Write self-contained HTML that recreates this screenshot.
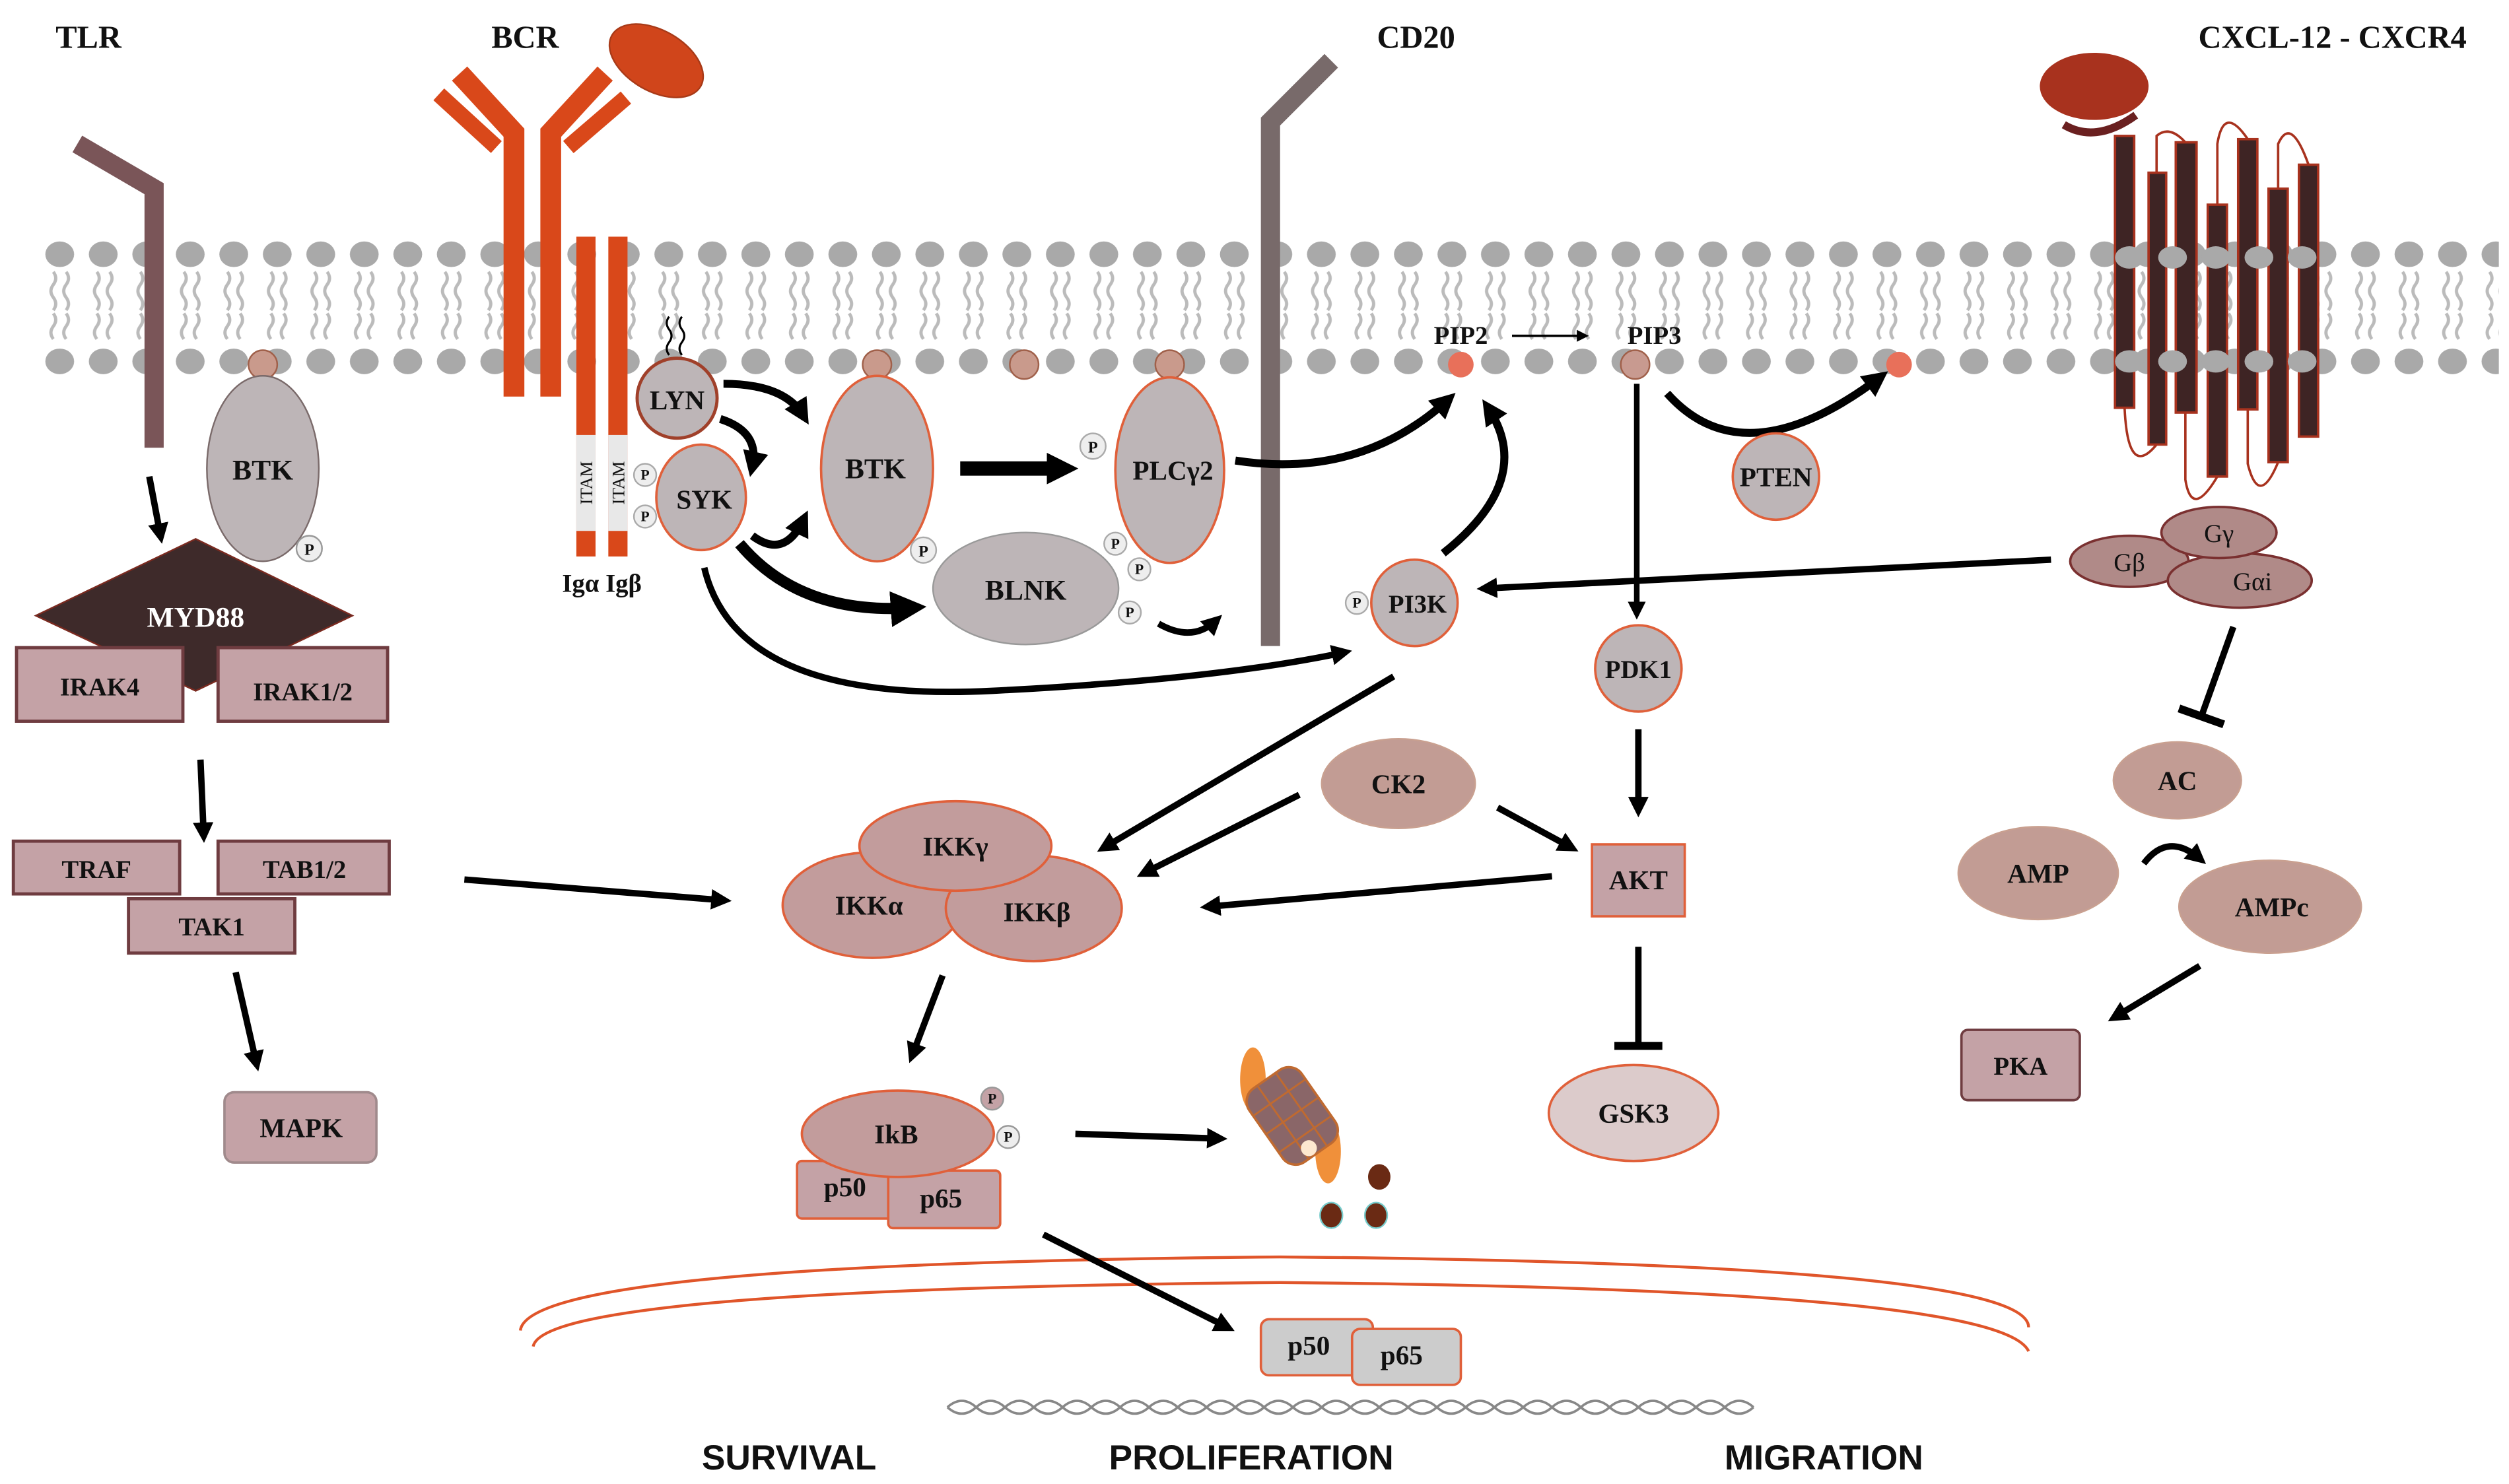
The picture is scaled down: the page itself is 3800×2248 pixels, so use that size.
<!DOCTYPE html>
<html><head><meta charset="utf-8"><style>
html,body{margin:0;padding:0;background:#fff;}
svg{display:block;}
.t{font-family:"Liberation Serif",serif;font-weight:bold;fill:#111;text-anchor:middle;}
.s{font-family:"Liberation Sans",sans-serif;font-weight:bold;fill:#111;text-anchor:middle;}
</style></head><body>
<svg width="3800" height="2248" viewBox="0 0 1568 928" xmlns="http://www.w3.org/2000/svg">
<defs>
<marker id="ah" viewBox="0 0 10 10" refX="6" refY="5" markerWidth="3.2" markerHeight="3.2" orient="auto"><path d="M0,0 L10,5 L0,10 z" fill="#000"/></marker>
<marker id="ahs" viewBox="0 0 10 10" refX="6" refY="5" markerWidth="5" markerHeight="5" orient="auto"><path d="M0,0 L10,5 L0,10 z" fill="#000"/></marker>
<marker id="ahf" viewBox="0 0 10 10" refX="5" refY="5" markerWidth="2.2" markerHeight="2.2" orient="auto"><path d="M0,0 L10,5 L0,10 z" fill="#000"/></marker>
<pattern id="mem" x="24" y="0" width="27.2" height="928" patternUnits="userSpaceOnUse">
<ellipse cx="13" cy="159" rx="9" ry="8" fill="#a9a9a9"/>
<ellipse cx="13" cy="226" rx="9" ry="8" fill="#a9a9a9"/>
<path d="M9,170 q3,4 0,8 q-3,4 0,8 q3,4 0,8 M17,170 q3,4 0,8 q-3,4 0,8 q3,4 0,8" stroke="#bbb" stroke-width="2" fill="none"/>
<path d="M9,196 q3,4 0,8 q-3,4 0,8 M17,196 q3,4 0,8 q-3,4 0,8" stroke="#bbb" stroke-width="2" fill="none"/>
</pattern>
</defs>
<rect x="22" y="148" width="1540" height="90" fill="url(#mem)"/>

<!-- titles -->
<text class="t" x="55" y="30" font-size="20">TLR</text>
<text class="t" x="328" y="30" font-size="20">BCR</text>
<text class="t" x="885" y="30" font-size="20">CD20</text>
<text class="t" x="1458" y="30" font-size="20">CXCL-12 - CXCR4</text>

<!-- TLR -->
<path d="M48,90 L96,118 L96,280" stroke="#7a5558" stroke-width="12" fill="none"/>
<circle cx="164" cy="228" r="9" fill="#c99a8c" stroke="#a0604a"/>
<ellipse cx="164" cy="293" rx="35" ry="58" fill="#bdb5b7" stroke="#7a6a6a"/>
<text class="t" x="164" y="300" font-size="18">BTK</text>
<circle cx="193" cy="343" r="8" fill="#eee" stroke="#999"/><text class="t" x="193" y="347" font-size="10">P</text>
<line x1="93" y1="298" x2="100" y2="335" stroke="#000" stroke-width="4" marker-end="url(#ah)"/>
<polygon points="22,385 122,337 220,385 122,432" fill="#3e2a2a" stroke="#7a2a20"/>
<text class="t" x="122" y="392" font-size="18" style="fill:#fff">MYD88</text>
<rect x="10" y="405" width="104" height="46" fill="#c4a2a6" stroke="#6f3c40" stroke-width="2"/>
<rect x="136" y="405" width="106" height="46" fill="#c4a2a6" stroke="#6f3c40" stroke-width="2"/>
<text class="t" x="62" y="435" font-size="16">IRAK4</text>
<text class="t" x="189" y="438" font-size="16">IRAK1/2</text>
<line x1="125" y1="475" x2="127" y2="522" stroke="#000" stroke-width="4" marker-end="url(#ah)"/>
<rect x="8" y="526" width="104" height="33" fill="#c4a2a6" stroke="#6f3c40" stroke-width="2"/>
<rect x="136" y="526" width="107" height="33" fill="#c4a2a6" stroke="#6f3c40" stroke-width="2"/>
<rect x="80" y="562" width="104" height="34" fill="#c4a2a6" stroke="#6f3c40" stroke-width="2"/>
<text class="t" x="60" y="549" font-size="16">TRAF</text>
<text class="t" x="190" y="549" font-size="16">TAB1/2</text>
<text class="t" x="132" y="585" font-size="16">TAK1</text>
<line x1="147" y1="608" x2="160" y2="665" stroke="#000" stroke-width="4" marker-end="url(#ah)"/>
<rect x="140" y="683" width="95" height="44" rx="6" fill="#c4a2a6" stroke="#a08a8c" stroke-width="1.5"/>
<text class="t" x="188" y="711" font-size="17">MAPK</text>
<line x1="290" y1="550" x2="452" y2="563" stroke="#000" stroke-width="4" marker-end="url(#ah)"/>

<!-- BCR -->
<g stroke="#d9481a" fill="none" stroke-linejoin="miter">
<path d="M321,248 L321,83 L287,46" stroke-width="13"/>
<path d="M344,248 L344,83 L378,46" stroke-width="13"/>
<path d="M274,59 L310,92" stroke-width="10"/>
<path d="M391,61 L355,92" stroke-width="10"/>
</g>
<ellipse cx="410" cy="38" rx="32" ry="19" transform="rotate(30 410 38)" fill="#d0451b" stroke="#a83a18"/>
<rect x="360" y="148" width="12" height="200" fill="#d9481a"/>
<rect x="380" y="148" width="12" height="200" fill="#d9481a"/>
<rect x="360" y="272" width="12" height="60" fill="#e8e8e8"/>
<rect x="380" y="272" width="12" height="60" fill="#e8e8e8"/>
<text class="t" transform="translate(370,302) rotate(-90)" font-size="11" style="font-weight:normal">ITAM</text>
<text class="t" transform="translate(390,302) rotate(-90)" font-size="11" style="font-weight:normal">ITAM</text>
<text class="t" x="376" y="370" font-size="16">Igα Igβ</text>
<path d="M418,198 q-3,4 0,8 q3,4 0,8 q-3,4 0,8 M426,198 q-3,4 0,8 q3,4 0,8 q-3,4 0,8" stroke="#000" stroke-width="1.3" fill="none"/>
<circle cx="423" cy="249" r="25" fill="#bdb5b7" stroke="#a0402a" stroke-width="2"/>
<text class="t" x="423" y="256" font-size="17">LYN</text>
<ellipse cx="438" cy="311" rx="28" ry="33" fill="#bdb5b7" stroke="#e0603a" stroke-width="1.5"/>
<text class="t" x="440" y="318" font-size="17">SYK</text>
<circle cx="403" cy="297" r="7" fill="#eee" stroke="#aaa"/><text class="t" x="403" y="300" font-size="9">P</text>
<circle cx="403" cy="323" r="7" fill="#eee" stroke="#aaa"/><text class="t" x="403" y="326" font-size="9">P</text>
<g stroke="#000" stroke-width="5" fill="none" marker-end="url(#ah)">
<path d="M452,240 Q490,240 502,260"/>
<path d="M450,262 Q475,270 470,292"/>
<path d="M470,335 Q490,350 502,325"/>
<path d="M462,340 Q500,385 570,380" stroke-width="7"/>
<path d="M440,355 Q460,440 620,432 Q760,425 840,408" stroke-width="4"/>
</g>
<circle cx="548" cy="228" r="9" fill="#c99a8c" stroke="#a0604a"/>
<ellipse cx="548" cy="293" rx="35" ry="58" fill="#bdb5b7" stroke="#e0603a" stroke-width="1.5"/>
<text class="t" x="547" y="299" font-size="18">BTK</text>
<circle cx="577" cy="344" r="8" fill="#eee" stroke="#aaa"/><text class="t" x="577" y="348" font-size="10">P</text>
<line x1="600" y1="293" x2="664" y2="293" stroke="#000" stroke-width="9" marker-end="url(#ahf)" />
<ellipse cx="641" cy="368" rx="58" ry="35" fill="#bdb5b7" stroke="#999"/>
<text class="t" x="641" y="375" font-size="18">BLNK</text>
<circle cx="697" cy="340" r="7" fill="#eee" stroke="#aaa"/><text class="t" x="697" y="343" font-size="9">P</text>
<circle cx="712" cy="356" r="7" fill="#eee" stroke="#aaa"/><text class="t" x="712" y="359" font-size="9">P</text>
<circle cx="706" cy="383" r="7" fill="#eee" stroke="#aaa"/><text class="t" x="706" y="386" font-size="9">P</text>
<path d="M724,390 Q745,402 760,388" stroke="#000" stroke-width="4" fill="none" marker-end="url(#ah)"/>
<circle cx="640" cy="228" r="9" fill="#c99a8c" stroke="#a0604a"/>
<circle cx="731" cy="228" r="9" fill="#c99a8c" stroke="#a0604a"/>
<ellipse cx="731" cy="294" rx="34" ry="58" fill="#bdb5b7" stroke="#e0603a" stroke-width="1.5"/>
<text class="t" x="733" y="300" font-size="17">PLCγ2</text>
<circle cx="683" cy="279" r="8" fill="#eee" stroke="#aaa"/><text class="t" x="683" y="283" font-size="10">P</text>

<!-- CD20 -->
<path d="M794,404 L794,76 L832,38" stroke="#786a6a" stroke-width="12" fill="none"/>
<path d="M772,288 Q850,300 905,250" stroke="#000" stroke-width="5" fill="none" marker-end="url(#ah)"/>

<!-- PIP -->
<text class="t" x="913" y="215" font-size="16">PIP2</text>
<line x1="945" y1="210" x2="990" y2="210" stroke="#000" stroke-width="1.5" marker-end="url(#ahs)"/>
<text class="t" x="1034" y="215" font-size="16">PIP3</text>
<circle cx="913" cy="228" r="8" fill="#e8705a"/>
<circle cx="1022" cy="228" r="9" fill="#c89a90" stroke="#a0604a"/>
<circle cx="1187" cy="228" r="8" fill="#e8705a"/>
<path d="M902,346 Q960,300 930,255" stroke="#000" stroke-width="5" fill="none" marker-end="url(#ah)"/>
<path d="M1042,246 Q1090,300 1175,236" stroke="#000" stroke-width="5" fill="none" marker-end="url(#ah)"/>
<circle cx="1110" cy="298" r="27" fill="#bdb5b7" stroke="#e0603a" stroke-width="1.5"/>
<text class="t" x="1110" y="304" font-size="17">PTEN</text>
<line x1="1023" y1="240" x2="1023" y2="383" stroke="#000" stroke-width="3.5" marker-end="url(#ah)"/>
<circle cx="884" cy="377" r="27" fill="#bdb5b7" stroke="#e0603a" stroke-width="1.5"/>
<text class="t" x="886" y="383" font-size="16">PI3K</text>
<circle cx="848" cy="377" r="7" fill="#eee" stroke="#aaa"/><text class="t" x="848" y="380" font-size="9">P</text>
<circle cx="1024" cy="418" r="27" fill="#bdb5b7" stroke="#e0603a" stroke-width="1.5"/>
<text class="t" x="1024" y="424" font-size="16">PDK1</text>
<line x1="1024" y1="456" x2="1024" y2="506" stroke="#000" stroke-width="4" marker-end="url(#ah)"/>
<rect x="995" y="528" width="58" height="45" fill="#c4a2a6" stroke="#e0603a" stroke-width="1.5"/>
<text class="t" x="1024" y="556" font-size="17">AKT</text>
<ellipse cx="874" cy="490" rx="48" ry="28" fill="#c29c94" stroke="#c9a090"/>
<text class="t" x="874" y="496" font-size="17">CK2</text>
<line x1="936" y1="505" x2="982" y2="530" stroke="#000" stroke-width="4" marker-end="url(#ah)"/>
<line x1="812" y1="497" x2="715" y2="546" stroke="#000" stroke-width="4" marker-end="url(#ah)"/>
<line x1="871" y1="423" x2="690" y2="530" stroke="#000" stroke-width="4" marker-end="url(#ah)"/>
<line x1="970" y1="548" x2="755" y2="567" stroke="#000" stroke-width="4" marker-end="url(#ah)"/>
<line x1="1024" y1="592" x2="1024" y2="654" stroke="#000" stroke-width="4"/>
<line x1="1009" y1="654" x2="1039" y2="654" stroke="#000" stroke-width="5"/>
<ellipse cx="1021" cy="696" rx="53" ry="30" fill="#dccbcb" stroke="#e0603a" stroke-width="1.5"/>
<text class="t" x="1021" y="702" font-size="17">GSK3</text>

<!-- IKK -->
<ellipse cx="545" cy="566" rx="56" ry="33" fill="#c29c9c" stroke="#e0603a" stroke-width="1.5"/>
<ellipse cx="646" cy="568" rx="55" ry="33" fill="#c29c9c" stroke="#e0603a" stroke-width="1.5"/>
<ellipse cx="597" cy="529" rx="60" ry="28" fill="#c29c9c" stroke="#e0603a" stroke-width="1.5"/>
<text class="t" x="597" y="535" font-size="17">IKKγ</text>
<text class="t" x="543" y="572" font-size="17">IKKα</text>
<text class="t" x="648" y="576" font-size="17">IKKβ</text>
<line x1="589" y1="610" x2="570" y2="660" stroke="#000" stroke-width="4" marker-end="url(#ah)"/>
<rect x="498" y="726" width="64" height="36" rx="3" fill="#c4a2a6" stroke="#e0603a" stroke-width="1.5"/>
<rect x="555" y="732" width="70" height="36" rx="3" fill="#c4a2a6" stroke="#e0603a" stroke-width="1.5"/>
<ellipse cx="561" cy="709" rx="60" ry="27" fill="#c29c9c" stroke="#e0603a" stroke-width="1.5"/>
<text class="t" x="560" y="715" font-size="17">IkB</text>
<text class="t" x="528" y="748" font-size="17">p50</text>
<text class="t" x="588" y="755" font-size="17">p65</text>
<circle cx="620" cy="687" r="7" fill="#c4a2a6" stroke="#999"/><text class="t" x="620" y="690" font-size="9">P</text>
<circle cx="630" cy="711" r="7" fill="#eee" stroke="#999"/><text class="t" x="630" y="714" font-size="9">P</text>
<line x1="672" y1="709" x2="762" y2="712" stroke="#000" stroke-width="4" marker-end="url(#ah)"/>

<!-- proteasome -->
<ellipse cx="783" cy="675" rx="8" ry="20" fill="#f0903a"/>
<ellipse cx="830" cy="720" rx="8" ry="20" fill="#f0903a"/>
<g transform="rotate(-35 807 697)">
<rect x="787" y="670" width="40" height="56" rx="10" fill="#8a6668" stroke="#c06a30" stroke-width="1.5"/>
<g fill="none" stroke="#c06a30" stroke-width="1.2">
<line x1="800" y1="670" x2="800" y2="726"/><line x1="814" y1="670" x2="814" y2="726"/>
<line x1="787" y1="684" x2="827" y2="684"/><line x1="787" y1="698" x2="827" y2="698"/><line x1="787" y1="712" x2="827" y2="712"/>
</g></g>
<circle cx="818" cy="718" r="5" fill="#fde8d0"/>
<ellipse cx="862" cy="736" rx="7" ry="8" fill="#6a2a14"/>
<ellipse cx="832" cy="760" rx="7" ry="8" fill="#6a2a14" stroke="#7cc" stroke-width="1"/>
<ellipse cx="860" cy="760" rx="7" ry="8" fill="#6a2a14" stroke="#7cc" stroke-width="1"/>

<!-- nucleus -->
<path d="M325,832 Q330,790 800,786 Q1268,790 1268,830" stroke="#e0552a" stroke-width="1.8" fill="none"/>
<path d="M333,842 Q340,806 800,802 Q1250,806 1268,845" stroke="#e0552a" stroke-width="1.8" fill="none"/>
<line x1="652" y1="772" x2="767" y2="830" stroke="#000" stroke-width="4" marker-end="url(#ah)"/>
<rect x="788" y="825" width="70" height="35" rx="5" fill="#ccc" stroke="#e0603a" stroke-width="1.5"/>
<rect x="845" y="831" width="68" height="35" rx="5" fill="#ccc" stroke="#e0603a" stroke-width="1.5"/>
<text class="t" x="818" y="847" font-size="17">p50</text>
<text class="t" x="876" y="853" font-size="17">p65</text>
<path d="M592,880 q9,-8 18,0 q9,-8 18,0 q9,-8 18,0 q9,-8 18,0 q9,-8 18,0 q9,-8 18,0 q9,-8 18,0 q9,-8 18,0 q9,-8 18,0 q9,-8 18,0 q9,-8 18,0 q9,-8 18,0 q9,-8 18,0 q9,-8 18,0 q9,-8 18,0 q9,-8 18,0 q9,-8 18,0 q9,-8 18,0 q9,-8 18,0 q9,-8 18,0 q9,-8 18,0 q9,-8 18,0 q9,-8 18,0 q9,-8 18,0 q9,-8 18,0 q9,-8 18,0 q9,-8 18,0 q9,-8 18,0 M592,880 q9,8 18,0 q9,8 18,0 q9,8 18,0 q9,8 18,0 q9,8 18,0 q9,8 18,0 q9,8 18,0 q9,8 18,0 q9,8 18,0 q9,8 18,0 q9,8 18,0 q9,8 18,0 q9,8 18,0 q9,8 18,0 q9,8 18,0 q9,8 18,0 q9,8 18,0 q9,8 18,0 q9,8 18,0 q9,8 18,0 q9,8 18,0 q9,8 18,0 q9,8 18,0 q9,8 18,0 q9,8 18,0 q9,8 18,0 q9,8 18,0 q9,8 18,0" stroke="#888" stroke-width="1.5" fill="none"/>
<text class="s" x="493" y="919" font-size="22">SURVIVAL</text>
<text class="s" x="782" y="919" font-size="22">PROLIFERATION</text>
<text class="s" x="1140" y="919" font-size="22">MIGRATION</text>

<!-- CXCR4 -->
<ellipse cx="1309" cy="54" rx="34" ry="21" fill="#a8321e"/>
<path d="M1290,78 Q1310,90 1335,72" stroke="#6a2020" stroke-width="5" fill="none"/>
<g stroke="#a8321e" stroke-width="1.5" fill="none">
<path d="M1348,108 L1348,85 Q1356,78 1366,89"/>
<path d="M1386,128 L1386,90 Q1390,65 1405,87"/>
<path d="M1424,118 L1424,90 Q1432,72 1443,103"/>
<path d="M1328,255 Q1330,300 1348,278"/>
<path d="M1366,258 L1366,300 Q1370,325 1386,298"/>
<path d="M1405,256 L1405,290 Q1412,318 1424,289"/>
</g>
<g fill="#3e2424" stroke="#a8321e" stroke-width="1.5">
<rect x="1322" y="85" width="12" height="170"/>
<rect x="1343" y="108" width="11" height="170"/>
<rect x="1360" y="89" width="13" height="169"/>
<rect x="1380" y="128" width="12" height="170"/>
<rect x="1399" y="87" width="12" height="169"/>
<rect x="1418" y="118" width="12" height="171"/>
<rect x="1437" y="103" width="12" height="170"/>
</g>
<g fill="#a9a9a9">
<ellipse cx="1331" cy="161" rx="9" ry="7"/><ellipse cx="1358" cy="161" rx="9" ry="7"/><ellipse cx="1385" cy="161" rx="9" ry="7"/><ellipse cx="1412" cy="161" rx="9" ry="7"/><ellipse cx="1439" cy="161" rx="9" ry="7"/>
<ellipse cx="1331" cy="226" rx="9" ry="7"/><ellipse cx="1358" cy="226" rx="9" ry="7"/><ellipse cx="1385" cy="226" rx="9" ry="7"/><ellipse cx="1412" cy="226" rx="9" ry="7"/><ellipse cx="1439" cy="226" rx="9" ry="7"/>
</g>
<g fill="#b08a88" stroke="#7a3030" stroke-width="1.5">
<ellipse cx="1331" cy="351" rx="37" ry="16"/>
<ellipse cx="1400" cy="363" rx="45" ry="17"/>
<ellipse cx="1387" cy="333" rx="36" ry="16"/>
</g>
<text class="t" x="1331" y="357" font-size="16" style="font-weight:normal">Gβ</text>
<text class="t" x="1387" y="339" font-size="16" style="font-weight:normal">Gγ</text>
<text class="t" x="1408" y="369" font-size="16" style="font-weight:normal">Gαi</text>
<line x1="1282" y1="350" x2="928" y2="368" stroke="#000" stroke-width="4" marker-end="url(#ah)"/>
<line x1="1396" y1="392" x2="1376" y2="448" stroke="#000" stroke-width="4"/>
<line x1="1362" y1="443" x2="1390" y2="453" stroke="#000" stroke-width="5"/>
<ellipse cx="1361" cy="488" rx="40" ry="24" fill="#c29c94" stroke="#c9a090"/>
<text class="t" x="1361" y="494" font-size="17">AC</text>
<ellipse cx="1274" cy="546" rx="50" ry="29" fill="#c29c94" stroke="#c9a090"/>
<text class="t" x="1274" y="552" font-size="17">AMP</text>
<ellipse cx="1419" cy="567" rx="57" ry="29" fill="#c29c94" stroke="#c9a090"/>
<text class="t" x="1420" y="573" font-size="17">AMPc</text>
<path d="M1340,540 Q1355,520 1375,537" stroke="#000" stroke-width="4" fill="none" marker-end="url(#ah)"/>
<line x1="1375" y1="604" x2="1322" y2="636" stroke="#000" stroke-width="4" marker-end="url(#ah)"/>
<rect x="1226" y="644" width="74" height="44" rx="4" fill="#c4a2a6" stroke="#6f3c40" stroke-width="1.5"/>
<text class="t" x="1263" y="672" font-size="16">PKA</text>
</svg>
</body></html>
